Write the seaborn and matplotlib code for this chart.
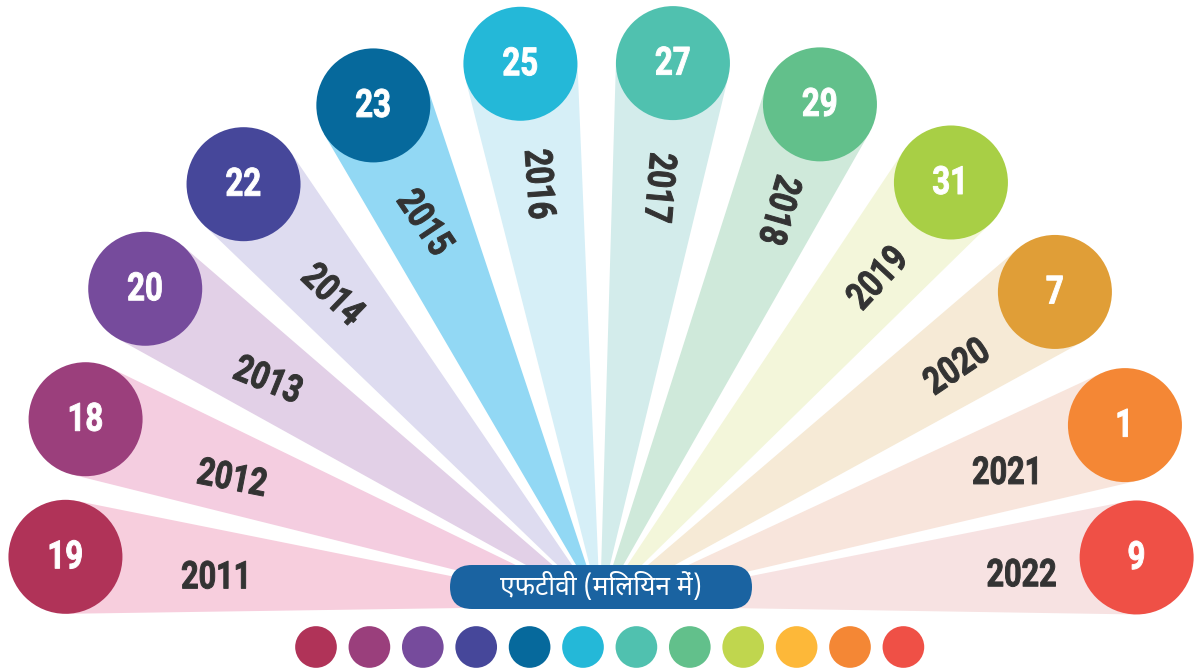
import numpy as np
import pandas as pd
import matplotlib
matplotlib.use("Agg")
import matplotlib.pyplot as plt
import seaborn as sns
from matplotlib.patches import Circle, Polygon, FancyBboxPatch
from matplotlib.patheffects import AbstractPathEffect
from matplotlib.transforms import Affine2D

# ---- data ----
years = ["2011", "2012", "2013", "2014", "2015", "2016",
         "2017", "2018", "2019", "2020", "2021", "2022"]
ftv_million = [19, 18, 20, 22, 23, 25, 27, 29, 31, 7, 1, 9]
circle_colors = ["#B03358", "#9B3F7C", "#764B9C", "#46479A", "#06699C", "#24B8D8",
                 "#50C1AF", "#62C08B", "#A8CF45", "#E09E37", "#F48735", "#EF5046"]
wedge_colors = ["#F7CEDD", "#F4CDE0", "#E2D0E7", "#DEDCF0", "#92D8F4", "#D6EFF7",
                "#D3ECEB", "#CFE9DA", "#F3F6DA", "#F6EAD6", "#F8E5DC", "#F7E2E2"]
dot_colors = ["#B03358", "#9A3F7C", "#764B9C", "#46479A", "#06699C", "#24B8D8",
              "#50C1AF", "#62C08B", "#C0D64E", "#FDB839", "#F48735", "#EF5046"]
center_label = "एफटीवी (मिलियन में)"

# ---- fan layout (pixel space) ----
W, H = 1197, 670
HUB = (599, 596)          # centre of the bubble arc
APEX = (600, 606)         # point where the rays meet
BUBBLE_R = 57
ray_angle = [175.8, 161.0, 145.9, 130.8, 114.7, 98.4,
             82.1, 65.8, 49.6, 33.7, 18.0, 4.1]
bubble_dist = [535, 543, 548, 544, 540, 538, 538, 539, 543, 548, 553, 539]
label_dist = [384, 389, 401, 410, 421, 426, 422, 434, 430, 430, 429, 423]
label_rot = [0, -11, -22, -44, -56, -86, -95, -106, 47, 34, 0, 0]


class Condense(AbstractPathEffect):
    """Squeeze glyphs horizontally (in the text's own frame) about their centre,
    with a thin outline in the fill colour to make the strokes heavier."""

    def __init__(self, sx=0.8, stroke=0.7):
        super().__init__()
        self.sx = sx
        self.stroke = stroke

    def draw_path(self, renderer, gc, tpath, affine, rgbFace=None):
        v = tpath.vertices
        xmid = 0.5 * (v[:, 0].min() + v[:, 0].max()) if len(v) else 0.0
        squeeze = Affine2D().translate(-xmid, 0).scale(self.sx, 1).translate(xmid, 0)
        gc0 = renderer.new_gc()
        gc0.copy_properties(gc)
        if rgbFace is not None:
            gc0.set_foreground(rgbFace)
        gc0.set_linewidth(self.stroke)
        gc0.set_joinstyle("round")
        renderer.draw_path(gc0, tpath, squeeze + affine, rgbFace)
        gc0.restore()


sns.set_theme(style="white")
plt.rcParams["font.family"] = ["Roboto", "DejaVu Sans"]

num_kw = dict(family=["Roboto", "DejaVu Sans"], fontweight="bold",
              path_effects=[Condense(0.8, 0.7)])

fig = plt.figure(figsize=(W / 100, H / 100), dpi=100)
ax = fig.add_axes([0, 0, 1, 1])

for i, (yr, val) in enumerate(zip(years, ftv_million)):
    a = np.deg2rad(ray_angle[i])
    cx = HUB[0] + bubble_dist[i] * np.cos(a)
    cy = HUB[1] - bubble_dist[i] * np.sin(a)
    # ray tangent to the bubble, converging at the apex
    dx, dy = cx - APEX[0], cy - APEX[1]
    d = np.hypot(dx, dy)
    base = np.arctan2(dy, dx)
    half = np.arcsin(BUBBLE_R / d)
    tl = np.sqrt(d ** 2 - BUBBLE_R ** 2)
    p1 = (APEX[0] + tl * np.cos(base - half), APEX[1] + tl * np.sin(base - half))
    p2 = (APEX[0] + tl * np.cos(base + half), APEX[1] + tl * np.sin(base + half))
    ax.add_patch(Polygon([APEX, p1, (cx, cy), p2], closed=True,
                         facecolor=wedge_colors[i], edgecolor="none", zorder=1))
    ax.add_patch(Circle((cx, cy), BUBBLE_R, facecolor=circle_colors[i],
                        edgecolor="none", zorder=3))
    ax.text(cx, cy + 1, str(val), color="white", fontsize=28,
            ha="center", va="center", zorder=4, **num_kw)
    # year label along the ray
    lx = APEX[0] + label_dist[i] * np.cos(a)
    ly = APEX[1] - label_dist[i] * np.sin(a)
    ax.text(lx, ly, yr, color="#333333", fontsize=27.5,
            ha="center", va="center", rotation=label_rot[i],
            rotation_mode="anchor", zorder=2, **num_kw)

# central pill label
ax.add_patch(FancyBboxPatch((450, 565), 302, 44,
                            boxstyle="round,pad=0,rounding_size=22",
                            facecolor="#1A63A1", edgecolor="none", zorder=5))
ax.text(601, 587, center_label, color="white", fontsize=19,
        family=["Noto Sans Devanagari", "Lohit Devanagari", "FreeSans",
                "Noto Sans", "DejaVu Sans"],
        ha="center", va="center", zorder=6)

# colour key row of dots
dots = pd.DataFrame({"year": years, "x": 316 + 53.4 * np.arange(len(years)),
                     "y": [647] * len(years)})
sns.scatterplot(data=dots, x="x", y="y", hue="year", palette=dot_colors,
                s=900, linewidth=0, legend=False, ax=ax, zorder=6)
ax.set_xlim(0, W)
ax.set_ylim(H, 0)
ax.axis("off")

fig.savefig("out.png", dpi=100, facecolor="white")
